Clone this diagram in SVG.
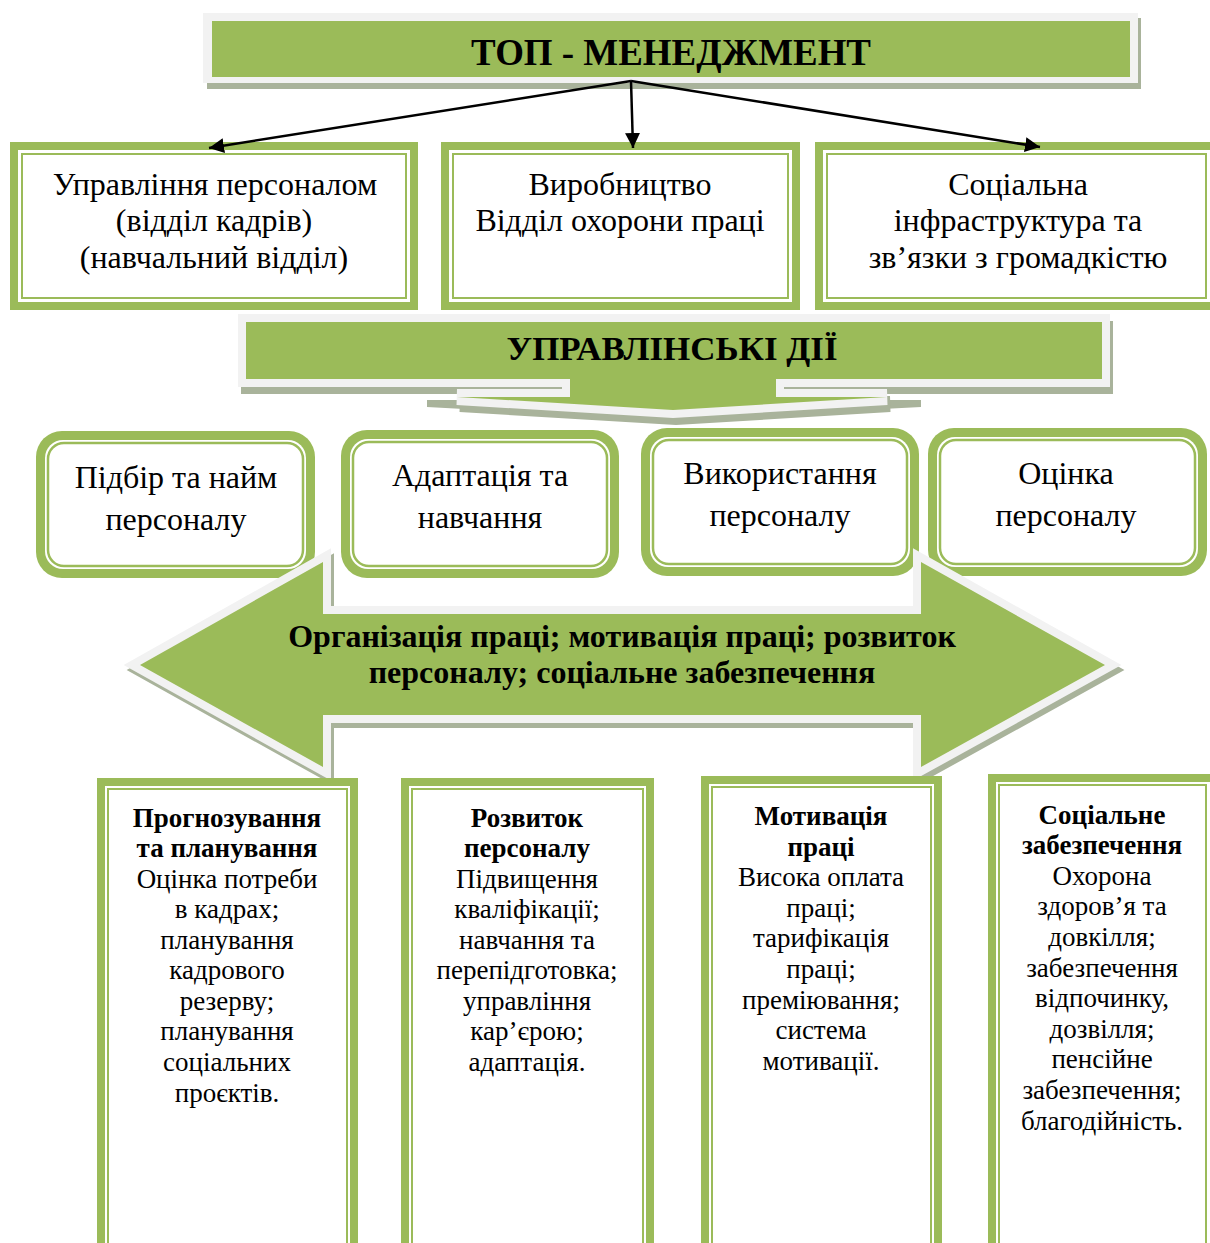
<svg xmlns="http://www.w3.org/2000/svg" width="1210" height="1243" viewBox="0 0 1210 1243">
<defs>
<style>
.g{fill:#9bbb59}
.wh{fill:#fff}
.in{fill:#fff;stroke:#9bbb59;stroke-width:2}
.in2{fill:#fff;stroke:#9bbb59;stroke-width:2.5}
.frm{fill:#f2f2f2;stroke:#f2f2f2;stroke-width:16;stroke-linejoin:miter}
.shd{fill:#a9b39b;stroke:#a9b39b;stroke-width:16;stroke-linejoin:miter}
text{font-family:"Liberation Serif","Times New Roman",serif;fill:#000;text-anchor:middle}
.t1{font-size:32px}
.t2{font-size:32px}
.ta{font-size:32px;font-weight:bold}
.ts{font-size:27px}
.b{font-weight:bold}
.conn{stroke:#000;stroke-width:2.5;fill:none}
</style>
<marker id="ah" viewBox="0 0 10 10" refX="10" refY="5" markerWidth="6" markerHeight="6" orient="auto" markerUnits="strokeWidth">
<path d="M0,0 L10,5 L0,10 z" fill="#000"/>
</marker>
<path id="dbl" d="M140,665 L323,562 V614 H921 V562 L1105,665 L921,767 V715 H323 V767 Z"/>
<path id="ua" d="M246,322 H1102 V379 H776 V397 H887 L673,410 L457,397 H570 V379 H246 Z"/>
</defs>
<rect width="1210" height="1243" fill="#fff"/>

<g id="top">
<rect x="207" y="18" width="934" height="71" fill="#a9b39b"/>
<rect x="203" y="13" width="935" height="70" fill="#f2f2f2"/>
<rect x="212" y="21" width="918" height="56" class="g"/>
<text x="671" y="65" font-size="38" font-weight="bold" textLength="400" lengthAdjust="spacingAndGlyphs">ТОП - МЕНЕДЖМЕНТ</text>
</g>

<g id="hr">
<rect x="10" y="142" width="408" height="168" class="g"/>
<rect x="18" y="150" width="392" height="152" class="wh"/>
<rect x="22" y="154" width="384" height="144" class="in"/>
<text class="t1" x="215" y="195">Управління персоналом</text>
<text class="t1" x="214" y="231">(відділ кадрів)</text>
<text class="t1" x="214" y="268">(навчальний відділ)</text>
</g>

<g id="prod">
<rect x="441" y="142" width="359" height="168" class="g"/>
<rect x="449" y="150" width="343" height="152" class="wh"/>
<rect x="453" y="154" width="335" height="144" class="in"/>
<text class="t1" x="620" y="195">Виробництво</text>
<text class="t1" x="620" y="231">Відділ охорони праці</text>
</g>

<g id="social">
<rect x="815" y="142" width="410" height="168" class="g"/>
<rect x="823" y="150" width="394" height="152" class="wh"/>
<rect x="827" y="154" width="379" height="144" class="in"/>
<text class="t1" x="1018" y="195">Соціальна</text>
<text class="t1" x="1018" y="231">інфраструктура та</text>
<text class="t1" x="1018" y="268">зв’язки з громадкістю</text>
</g>

<g id="actions">
<path d="M427,400 L921,400 L921,407 L673,420 L427,407 Z" fill="#a9b39b"/>
<use href="#ua" class="shd" transform="translate(3,7)"/>
<use href="#ua" class="frm"/>
<use href="#ua" class="g"/>
<text x="672" y="360" font-size="33" font-weight="bold" textLength="331" lengthAdjust="spacingAndGlyphs">УПРАВЛІНСЬКІ ДІЇ</text>
</g>

<g id="hire">
<rect x="36" y="431" width="279" height="147" rx="26" class="g"/>
<rect x="45" y="440" width="261" height="129" rx="18" class="wh"/>
<rect x="48" y="443" width="255" height="123" rx="16" class="in2"/>
<text class="t2" x="176" y="488">Підбір та найм</text>
<text class="t2" x="176" y="530">персоналу</text>
</g>

<g id="adapt">
<rect x="341" y="430" width="278" height="148" rx="26" class="g"/>
<rect x="350" y="439" width="260" height="130" rx="18" class="wh"/>
<rect x="353" y="442" width="254" height="124" rx="16" class="in2"/>
<text class="t2" x="480" y="486">Адаптація та</text>
<text class="t2" x="480" y="528">навчання</text>
</g>

<g id="use">
<rect x="641" y="428" width="278" height="148" rx="26" class="g"/>
<rect x="650" y="437" width="260" height="130" rx="18" class="wh"/>
<rect x="653" y="440" width="254" height="124" rx="16" class="in2"/>
<text class="t2" x="780" y="484">Використання</text>
<text class="t2" x="780" y="526">персоналу</text>
</g>

<g id="eval">
<rect x="928" y="428" width="279" height="148" rx="26" class="g"/>
<rect x="937" y="437" width="261" height="130" rx="18" class="wh"/>
<rect x="940" y="440" width="255" height="124" rx="16" class="in2"/>
<text class="t2" x="1066" y="484">Оцінка</text>
<text class="t2" x="1066" y="526">персоналу</text>
</g>

<g id="org">
<use href="#dbl" class="shd" transform="translate(3,5)"/>
<use href="#dbl" class="frm"/>
<use href="#dbl" class="g"/>
<text class="ta" x="622" y="647">Організація праці; мотивація праці; розвиток</text>
<text class="ta" x="622" y="683">персоналу; соціальне забезпечення</text>
</g>

<g id="plan">
<rect x="97" y="778" width="261" height="480" class="g"/>
<rect x="105" y="786" width="245" height="464" class="wh"/>
<rect x="108" y="789" width="239" height="460" class="in"/>
<text class="ts b" x="227" y="827">Прогнозування</text>
<text class="ts b" x="227" y="857">та планування</text>
<text class="ts" x="227" y="888">Оцінка потреби</text>
<text class="ts" x="227" y="918">в кадрах;</text>
<text class="ts" x="227" y="949">планування</text>
<text class="ts" x="227" y="979">кадрового</text>
<text class="ts" x="227" y="1010">резерву;</text>
<text class="ts" x="227" y="1040">планування</text>
<text class="ts" x="227" y="1071">соціальних</text>
<text class="ts" x="227" y="1102">проєктів.</text>
</g>

<g id="dev">
<rect x="401" y="778" width="253" height="480" class="g"/>
<rect x="409" y="786" width="237" height="464" class="wh"/>
<rect x="412" y="789" width="231" height="460" class="in"/>
<text class="ts b" x="527" y="827">Розвиток</text>
<text class="ts b" x="527" y="857">персоналу</text>
<text class="ts" x="527" y="888">Підвищення</text>
<text class="ts" x="527" y="918">кваліфікації;</text>
<text class="ts" x="527" y="949">навчання та</text>
<text class="ts" x="527" y="979">перепідготовка;</text>
<text class="ts" x="527" y="1010">управління</text>
<text class="ts" x="527" y="1040">кар’єрою;</text>
<text class="ts" x="527" y="1071">адаптація.</text>
</g>

<g id="motiv">
<rect x="701" y="776" width="241" height="480" class="g"/>
<rect x="709" y="784" width="225" height="464" class="wh"/>
<rect x="712" y="787" width="219" height="460" class="in"/>
<text class="ts b" x="821" y="825">Мотивація</text>
<text class="ts b" x="821" y="856">праці</text>
<text class="ts" x="821" y="886">Висока оплата</text>
<text class="ts" x="821" y="917">праці;</text>
<text class="ts" x="821" y="947">тарифікація</text>
<text class="ts" x="821" y="978">праці;</text>
<text class="ts" x="821" y="1009">преміювання;</text>
<text class="ts" x="821" y="1039">система</text>
<text class="ts" x="821" y="1070">мотивації.</text>
</g>

<g id="socsec">
<rect x="988" y="774" width="230" height="480" class="g"/>
<rect x="996" y="782" width="214" height="464" class="wh"/>
<rect x="999" y="785" width="207" height="460" class="in"/>
<text class="ts b" x="1102" y="824">Соціальне</text>
<text class="ts b" x="1102" y="854">забезпечення</text>
<text class="ts" x="1102" y="885">Охорона</text>
<text class="ts" x="1102" y="915">здоров’я та</text>
<text class="ts" x="1102" y="946">довкілля;</text>
<text class="ts" x="1102" y="977">забезпечення</text>
<text class="ts" x="1102" y="1007">відпочинку,</text>
<text class="ts" x="1102" y="1038">дозвілля;</text>
<text class="ts" x="1102" y="1068">пенсійне</text>
<text class="ts" x="1102" y="1099">забезпечення;</text>
<text class="ts" x="1102" y="1130">благодійність.</text>
</g>

<g id="connectors">
<line class="conn" x1="631" y1="81" x2="209" y2="148" marker-end="url(#ah)"/>
<line class="conn" x1="631" y1="81" x2="633" y2="148" marker-end="url(#ah)"/>
<line class="conn" x1="631" y1="81" x2="1040" y2="147" marker-end="url(#ah)"/>
</g>
</svg>
